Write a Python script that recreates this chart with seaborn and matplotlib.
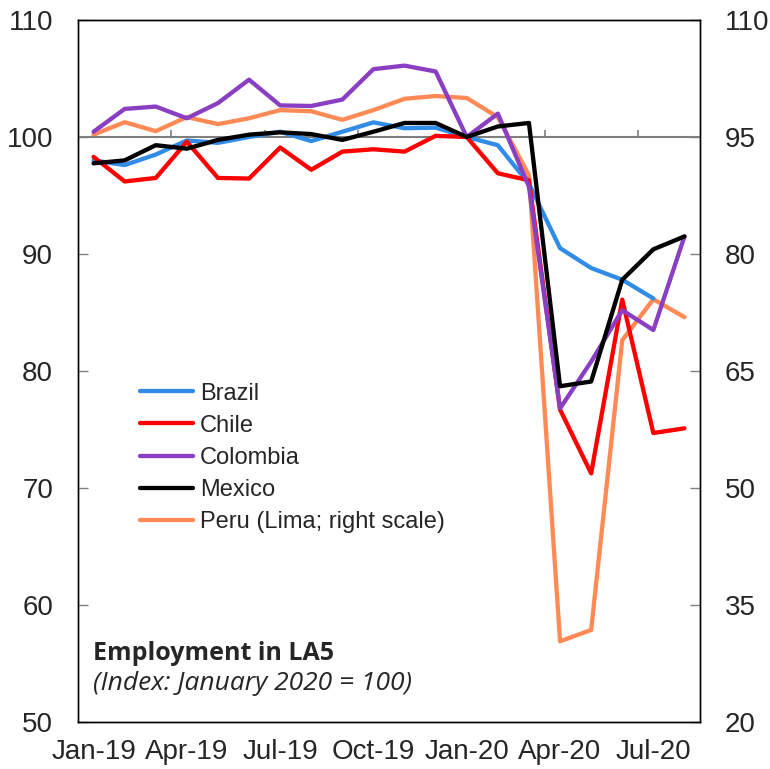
import numpy as np
import pandas as pd
import seaborn as sns
import matplotlib.pyplot as plt
from matplotlib.lines import Line2D

# months Jan-19 .. Aug-20
months = pd.date_range('2019-01-01', '2020-08-01', freq='MS').strftime('%b-%y').tolist()

brazil = [98.0, 97.6, 98.5, 99.7, 99.5, 100.0, 100.45, 99.65, 100.45, 101.25,
          100.75, 100.8, 100.0, 99.3, 96.0, 90.5, 88.8, 87.8, 86.2, np.nan]
chile = [98.3, 96.2, 96.5, 99.6, 96.5, 96.45, 99.1, 97.2, 98.75, 98.95,
         98.75, 100.1, 100.0, 96.9, 96.3, 76.7, 71.25, 86.1, 74.7, 75.1]
colombia = [100.45, 102.4, 102.6, 101.6, 102.9, 104.9, 102.7, 102.65, 103.2, 105.8,
            106.1, 105.6, 100.0, 102.0, 95.75, 76.8, 80.8, 85.2, 83.5, 91.5]
mexico = [97.75, 98.0, 99.3, 99.0, 99.75, 100.2, 100.4, 100.25, 99.75, 100.45,
          101.2, 101.2, 100.0, 100.9, 101.2, 78.7, 79.1, 87.8, 90.4, 91.5]
# Peru (Lima) on right scale
peru = [95.3, 96.9, 95.75, 97.55, 96.65, 97.4, 98.45, 98.3, 97.2, 98.45,
        99.9, 100.25, 100.0, 97.55, 90.1, 30.35, 31.8, 68.95, 74.2, 71.9]

left_ticks = [50, 60, 70, 80, 90, 100, 110]
right_ticks = [20, 35, 50, 65, 80, 95, 110]

colors = {'Brazil': '#318CE7', 'Chile': '#FF0000', 'Colombia': '#8A3FC3',
          'Mexico': '#000000', 'Peru (Lima; right scale)': '#FF8A55'}

df = pd.DataFrame({'t': np.arange(len(months)), 'Brazil': brazil, 'Chile': chile,
                   'Colombia': colombia, 'Mexico': mexico})
long = df.melt(id_vars='t', var_name='country', value_name='value')
peru_df = pd.DataFrame({'t': np.arange(len(months)), 'value': peru})

sns.set_style('white')
plt.rcParams['font.family'] = ['Liberation Sans', 'DejaVu Sans']

fig = plt.figure(figsize=(7.7, 7.69), dpi=100)
ax = fig.add_axes([78 / 770, 1 - 722 / 769, 622 / 770, 702 / 769])
ax2 = ax.twinx()

sns.lineplot(data=long, x='t', y='value', hue='country', palette=colors,
             linewidth=3.1, ax=ax, legend=False)
sns.lineplot(data=peru_df, x='t', y='value', color=colors['Peru (Lima; right scale)'],
             linewidth=3.1, ax=ax2, legend=False)
# put left-axis lines above the Peru line
ax.set_zorder(ax2.get_zorder() + 1)
ax.patch.set_visible(False)

ax.set_xlim(-0.5, len(months) - 0.5)
ax.set_ylim(50, 110)
ax2.set_ylim(20, 110)
ax.set_yticks(left_ticks)
ax2.set_yticks(right_ticks)
ax.set_xticks(np.arange(0, len(months), 3))
ax.set_xticklabels(months[::3])
ax.set_xlabel('')
ax.set_ylabel('')
ax2.set_ylabel('')

ax.tick_params(axis='y', direction='in', length=7, width=1, color='#808080',
               labelsize=20, pad=18)
ax2.tick_params(axis='y', direction='in', length=7, width=1, color='#808080',
                labelsize=20, pad=18)
ax.tick_params(axis='x', length=0, labelsize=20, pad=12)

for a in (ax, ax2):
    for s in a.spines.values():
        s.set_visible(True)
        s.set_color('black')
        s.set_linewidth(1)

# reference line at 100 with month-group tick marks
ax.axhline(100, color='#7f7f7f', linewidth=1.5, zorder=0)
ax.vlines(np.arange(2.5, len(months) - 1, 3), 100, 100.6, color='#7f7f7f', linewidth=1.2, zorder=0)

handles = [Line2D([], [], color=c, linewidth=3.1) for c in colors.values()]
ax.legend(handles, list(colors.keys()), loc='upper left', bbox_to_anchor=(0.0997, 0.4835),
          frameon=False, fontsize=17, handlelength=2.25, handletextpad=0.3,
          labelspacing=0.43, borderaxespad=0, borderpad=0)

ax.text(0.024, 0.088, 'Employment in LA5', transform=ax.transAxes, fontsize=18,
        fontweight='bold', family=['Open Sans', 'DejaVu Sans'], va='baseline')
ax.text(0.024, 0.045, '(Index: January 2020 = 100)', transform=ax.transAxes, fontsize=19,
        style='italic', family=['Open Sans', 'DejaVu Sans'], va='baseline')

fig.savefig('out.png', dpi=100)
